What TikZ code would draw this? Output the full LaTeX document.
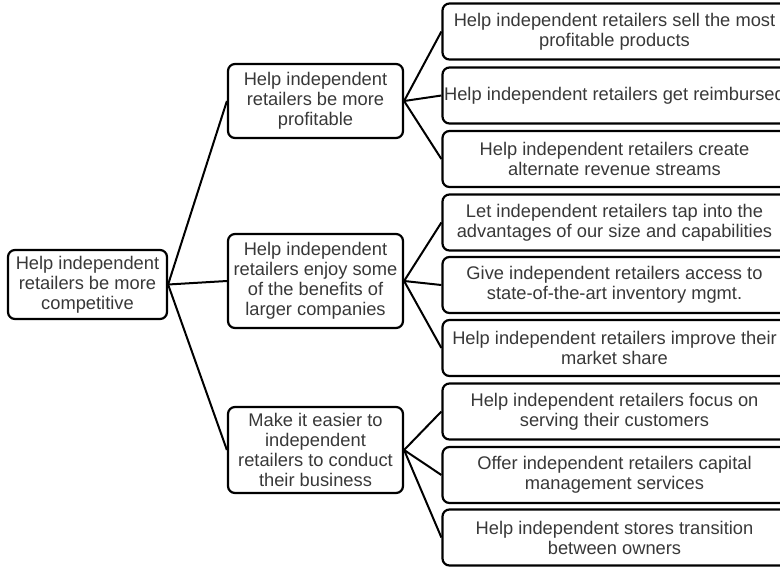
\documentclass[tikz,border=0pt]{standalone}
\usepackage{fontspec}
\setmainfont{Liberation Sans}
\begin{document}
\begin{tikzpicture}[x=1pt,y=-1pt,
  box/.style={draw=black, line width=2.2pt, rounded corners=7pt, align=center,
    inner sep=0pt, text=black!78, font=\fontsize{18.3}{20}\selectfont},
  rootbox/.style={box, minimum width=159pt, minimum height=69pt},
  midbox/.style={box, minimum width=175pt},
  leafbox/.style={box, minimum width=344pt, minimum height=56pt},
  conn/.style={draw=black, line width=2pt}]
\useasboundingbox (0,0) rectangle (780,566);
\node[rootbox] (root) at (87.5,284.5) {Help independent\\retailers be more\\competitive};
\node[midbox, minimum height=74pt] (m1) at (315.5,101) {Help independent\\retailers be more\\profitable};
\node[midbox, minimum height=94pt] (m2) at (315.5,281) {Help independent\\retailers enjoy some\\of the benefits of\\larger companies};
\node[midbox, minimum height=86pt] (m3) at (315.5,450) {Make it easier to\\independent\\retailers to conduct\\their business};
\node[leafbox] (l1) at (614.5,31.5) {Help independent retailers sell the most\\profitable products};
\node[leafbox] (l2) at (614.5,95.5) {Help independent retailers get reimbursed};
\node[leafbox] (l3) at (614.5,159) {Help independent retailers create\\alternate revenue streams};
\node[leafbox] (l4) at (614.5,222.5) {Let independent retailers tap into the\\advantages of our size and capabilities};
\node[leafbox] (l5) at (614.5,285) {Give independent retailers access to\\state-of-the-art inventory mgmt.};
\node[leafbox] (l6) at (614.5,348) {Help independent retailers improve their\\market share};
\node[leafbox] (l7) at (614.5,411.5) {Help independent retailers focus on\\serving their customers};
\node[leafbox] (l8) at (614.5,475) {Offer independent retailers capital\\management services};
\node[leafbox] (l9) at (614.5,537.5) {Help independent stores transition\\between owners};
\foreach \m in {m1,m2,m3} \draw[conn] (root.east) -- (\m.west);
\foreach \l in {l1,l2,l3} \draw[conn] (m1.east) -- (\l.west);
\foreach \l in {l4,l5,l6} \draw[conn] (m2.east) -- (\l.west);
\foreach \l in {l7,l8,l9} \draw[conn] (m3.east) -- (\l.west);
\end{tikzpicture}
\end{document}
